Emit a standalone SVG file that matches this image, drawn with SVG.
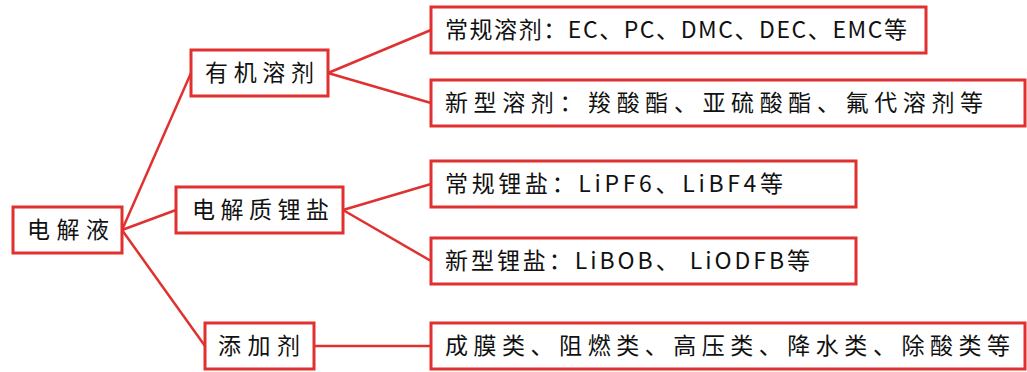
<svg xmlns="http://www.w3.org/2000/svg" width="1027" height="372" viewBox="0 0 1027 372">
<style>
.box{fill:#fff;stroke:#e03030;stroke-width:3}
.ln{stroke:#e03030;stroke-width:2.5;fill:none}
text{font-family:"Noto Sans CJK SC","Liberation Sans",sans-serif;font-size:23px;fill:#111}
</style>
<rect width="1027" height="372" fill="#fff"/>
<g id="connectors">
<line class="ln" x1="122" y1="230" x2="191" y2="73"/>
<line class="ln" x1="122" y1="230" x2="176" y2="210"/>
<line class="ln" x1="122" y1="230" x2="205" y2="346"/>
<line class="ln" x1="328" y1="73" x2="431" y2="30"/>
<line class="ln" x1="328" y1="73" x2="431" y2="103"/>
<line class="ln" x1="343" y1="210" x2="431" y2="184"/>
<line class="ln" x1="343" y1="210" x2="431" y2="261"/>
<line class="ln" x1="314" y1="346" x2="431" y2="346"/>
</g>
<g id="n-root"><rect class="box" x="13" y="207" width="109" height="46"/><text x="27" y="238" textLength="82" lengthAdjust="spacing">电解液</text></g>
<g id="n-solvent"><rect class="box" x="191" y="50" width="137" height="46"/><text x="205" y="81" textLength="109" lengthAdjust="spacing">有机溶剂</text></g>
<g id="n-salt"><rect class="box" x="176" y="187" width="167" height="46"/><text x="192" y="218" textLength="137" lengthAdjust="spacing">电解质锂盐</text></g>
<g id="n-additive"><rect class="box" x="205" y="323" width="109" height="46"/><text x="218" y="354" textLength="82" lengthAdjust="spacing">添加剂</text></g>
<g id="n-solvent-conv"><rect class="box" x="431" y="7" width="495" height="46"/><text x="445" y="38" textLength="462" lengthAdjust="spacing">常规溶剂：EC、PC、DMC、DEC、EMC等</text></g>
<g id="n-solvent-new"><rect class="box" x="431" y="80" width="594" height="46"/><text x="445" y="111" textLength="538" lengthAdjust="spacing">新型溶剂：羧酸酯、亚硫酸酯、氟代溶剂等</text></g>
<g id="n-salt-conv"><rect class="box" x="431" y="161" width="425" height="46"/><text x="445" y="192" textLength="338" lengthAdjust="spacing">常规锂盐：LiPF6、LiBF4等</text></g>
<g id="n-salt-new"><rect class="box" x="431" y="238" width="425" height="46"/><text x="445" y="269" textLength="365" lengthAdjust="spacing">新型锂盐：LiBOB、 LiODFB等</text></g>
<g id="n-additive-types"><rect class="box" x="431" y="323" width="594" height="46"/><text x="445" y="354" textLength="565" lengthAdjust="spacing">成膜类、阻燃类、高压类、降水类、除酸类等</text></g>
</svg>
